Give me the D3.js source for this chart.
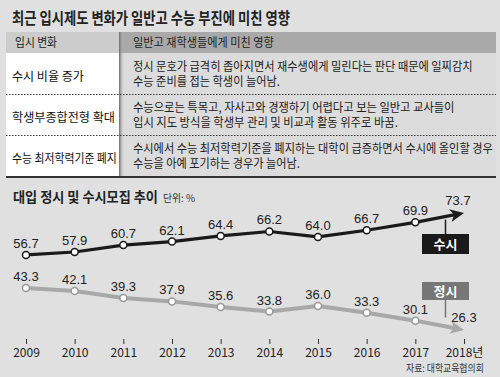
<!DOCTYPE html>
<html>
<head>
<meta charset="utf-8">
<script src="https://cdn.jsdelivr.net/npm/d3@7"></script>
<style>
  body { margin: 0; background: #e0e0e0; }
  svg { display: block; }
  .kr { font-family: "Noto Sans CJK KR", sans-serif; }
  .num { font-family: "Liberation Sans Narrow", "Liberation Sans", Arial, sans-serif; }
</style>
</head>
<body>
<svg id="chart" width="500" height="377"></svg>
<script>
// data
const years = [2009, 2010, 2011, 2012, 2013, 2014, 2015, 2016, 2017, 2018];
const susi = [56.7, 57.9, 60.7, 62.1, 64.4, 66.2, 64.0, 66.7, 69.9, 73.7];
const jeongsi = [43.3, 42.1, 39.3, 37.9, 35.6, 33.8, 36.0, 33.3, 30.1, 26.3];

const headerLabels = ["입시 변화", "일반고 재학생들에게 미친 영향"];
const rowLabels = ["수시 비율 증가", "학생부종합전형 확대", "수능 최저학력기준 폐지"];
const rowNotes = [
    ["정시 문호가 급격히 좁아지면서 재수생에게 밀린다는 판단 때문에 일찌감치", "수능 준비를 접는 학생이 늘어남."],
    ["수능으로는 특목고, 자사고와 경쟁하기 어렵다고 보는 일반고 교사들이", "입시 지도 방식을 학생부 관리 및 비교과 활동 위주로 바꿈."],
    ["수시에서 수능 최저학력기준을 폐지하는 대학이 급증하면서 수시에 올인할 경우", "수능을 아예 포기하는 경우가 늘어남."]
];

// text widths (condensed typeface)
const labelWidths = [72, 103, 105];
const noteWidths = [[340, 147], [322, 265], [360, 167]];

const svg = d3.select("#chart");

svg.append("rect").attr("width", 500).attr("height", 377).attr("fill", "#e0e0e0");

// draws korean text squeezed to a given width, like the condensed face of the original
function squeezed(parent, str, x, y, width, size, weight, fill) {
    let g = parent.append("g");
    let t = g.append("text").attr("class", "kr")
        .attr("font-size", size).attr("font-weight", weight || 400).attr("fill", fill || "#222")
        .text(str);
    let natural = t.node().getComputedTextLength();
    g.attr("transform", "translate(" + x + "," + y + ") scale(" + (width / natural) + ",1)");
    return g;
}

// title
squeezed(svg, "최근 입시제도 변화가 일반고 수능 부진에 미친 영향", 12, 24, 278, 16, 700, "#222");

// table
let colL = 6, colM = 119, colR = 496;
let headTop = 32, headBot = 53, rowH = 41, tableBot = 177;

svg.append("rect").attr("x", colL).attr("y", headTop).attr("width", colM - colL).attr("height", headBot - headTop).attr("fill", "#cccccc");
svg.append("rect").attr("x", colM).attr("y", headTop).attr("width", colR - colM).attr("height", headBot - headTop).attr("fill", "#a9a9a9");
svg.append("rect").attr("x", colL).attr("y", headBot).attr("width", colM - colL).attr("height", tableBot - headBot).attr("fill", "#ffffff");
svg.append("rect").attr("x", colM).attr("y", headBot).attr("width", colR - colM).attr("height", tableBot - headBot).attr("fill", "#dcdcdc");

// column separator with shadow
let defs = svg.append("defs");
let sep = defs.append("linearGradient").attr("id", "sep");
sep.append("stop").attr("offset", "0%").attr("stop-color", "#6a6a6a");
sep.append("stop").attr("offset", "100%").attr("stop-color", "#c8c8c8").attr("stop-opacity", 0);
svg.append("rect").attr("x", colM).attr("y", headTop).attr("width", 5).attr("height", tableBot - headTop).attr("fill", "url(#sep)");

squeezed(svg, headerLabels[0], 15, 47, 42, 12.5, 400, "#222");
squeezed(svg, headerLabels[1], 133, 47, 141, 12.5, 400, "#222");

rowLabels.forEach(function (lab, i) {
    let top = headBot + i * rowH;
    squeezed(svg, lab, 12, top + 28, labelWidths[i], 12.5, 400, "#111");
    rowNotes[i].forEach(function (line, j) {
        squeezed(svg, line, 133, top + 18 + j * 15, noteWidths[i][j], 12.5, 400, "#222");
    });
    if (i < rowLabels.length - 1) {
        svg.append("line")
            .attr("x1", colL).attr("x2", colR)
            .attr("y1", top + rowH + 0.5).attr("y2", top + rowH + 0.5)
            .attr("stroke", "#333").attr("stroke-width", 1).attr("stroke-dasharray", "1.5,1.5");
    }
});
svg.append("line").attr("x1", colL).attr("x2", colR).attr("y1", tableBot).attr("y2", tableBot)
    .attr("stroke", "#333").attr("stroke-width", 2);

// chart title
squeezed(svg, "대입 정시 및 수시모집 추이", 13, 202, 145, 14, 700, "#222");
squeezed(svg, "단위: %", 163, 202, 32, 10, 400, "#333");

// scales
let xScale = d3.scaleLinear().domain([2009, 2018]).range([26, 464]);
let yScale = d3.scaleLinear().domain([20, 80]).range([345.6, 197.4]);

// x axis
let xAxis = d3.axisBottom(xScale)
    .tickValues(years)
    .tickSize(5)
    .tickPadding(4)
    .tickFormat(d => d == 2018 ? d + "년" : d);
let gx = svg.append("g").attr("transform", "translate(0,339)").call(xAxis);
gx.select(".domain").remove();
gx.selectAll("line").attr("stroke", "#333");
gx.selectAll("text").attr("font-size", 12).attr("fill", "#222")
    .attr("font-family", "'Liberation Sans Narrow', 'Noto Sans CJK KR', sans-serif");

let series = [
    { key: "jeong", values: jeongsi, color: "#a8a8a8", width: 4, dot: "#999" },
    { key: "susi", values: susi, color: "#1a1a1a", width: 3.2, dot: "#1a1a1a" }
];

series.forEach(function (s) {
    let pts = years.map((y, i) => ({ year: y, value: s.values[i] }));
    // shorten last segment so the arrow head ends at the 2018 point
    let last = pts[pts.length - 1], prev = pts[pts.length - 2];
    let x1 = xScale(prev.year), y1 = yScale(prev.value), x2 = xScale(last.year), y2 = yScale(last.value);
    let len = Math.hypot(x2 - x1, y2 - y1);
    let cut = 9;
    let drawn = pts.slice(0, -1).map(p => [xScale(p.year), yScale(p.value)]);
    drawn.push([x2 - (x2 - x1) * cut / len, y2 - (y2 - y1) * cut / len]);
    svg.append("path")
        .attr("d", d3.line()(drawn))
        .attr("fill", "none").attr("stroke", s.color).attr("stroke-width", s.width)
        .attr("stroke-linejoin", "round");

    // arrow head
    let ang = Math.atan2(y2 - y1, x2 - x1);
    let hl = 14, hw = 6.5;
    let bx = x2 - Math.cos(ang) * hl, by = y2 - Math.sin(ang) * hl;
    svg.append("path")
        .attr("d", d3.line()([
            [x2, y2],
            [bx + Math.sin(ang) * hw, by - Math.cos(ang) * hw],
            [x2 - Math.cos(ang) * (hl - 4), y2 - Math.sin(ang) * (hl - 4)],
            [bx - Math.sin(ang) * hw, by + Math.cos(ang) * hw]
        ]) + "Z")
        .attr("fill", s.color);

    svg.selectAll(".dot-" + s.key).data(pts.slice(0, -1)).enter().append("circle")
        .attr("cx", d => xScale(d.year)).attr("cy", d => yScale(d.value))
        .attr("r", 3.5).attr("fill", "#fff")
        .attr("stroke", s.dot).attr("stroke-width", 1.5);

    svg.selectAll(".lab-" + s.key).data(pts).enter().append("text")
        .attr("class", "num")
        .attr("x", d => d.year == 2018 ? xScale(d.year) - (s.key == "susi" ? 6 : 0) : xScale(d.year))
        .attr("y", d => yScale(d.value) - (d.year == 2018 ? 8 : 7))
        .attr("text-anchor", "middle")
        .attr("font-size", 13).attr("fill", "#222")
        .text(d => d.value.toFixed(1));
});

// callout boxes
let boxX = xScale(2018) - 42, boxW = 47;
let cx = boxX + boxW / 2;
let frac = xScale.invert(cx) - 2017;
let susiAt = yScale(susi[8] + (susi[9] - susi[8]) * frac);
let jeongAt = yScale(jeongsi[8] + (jeongsi[9] - jeongsi[8]) * frac);

function callout(label, fill, top, h, lineFrom, lineTo) {
    svg.append("line")
        .attr("x1", cx).attr("x2", cx)
        .attr("y1", lineFrom).attr("y2", lineTo)
        .attr("stroke", fill).attr("stroke-width", 1.5);
    svg.append("rect").attr("x", boxX).attr("y", top).attr("width", boxW).attr("height", h).attr("fill", fill);
    svg.append("text").attr("class", "kr")
        .attr("x", cx).attr("y", top + h / 2 + 5)
        .attr("text-anchor", "middle")
        .attr("font-size", 13).attr("font-weight", 700).attr("fill", "#fff")
        .text(label);
}
callout("수시", "#1a1a1a", 234, 20, 234, susiAt + 3);
callout("정시", "#777777", 282, 18, 300, jeongAt - 9);

// source
let src = squeezed(svg, "자료: 대학교육협의회", 406, 372, 78, 10, 400, "#333");
</script>
</body>
</html>
